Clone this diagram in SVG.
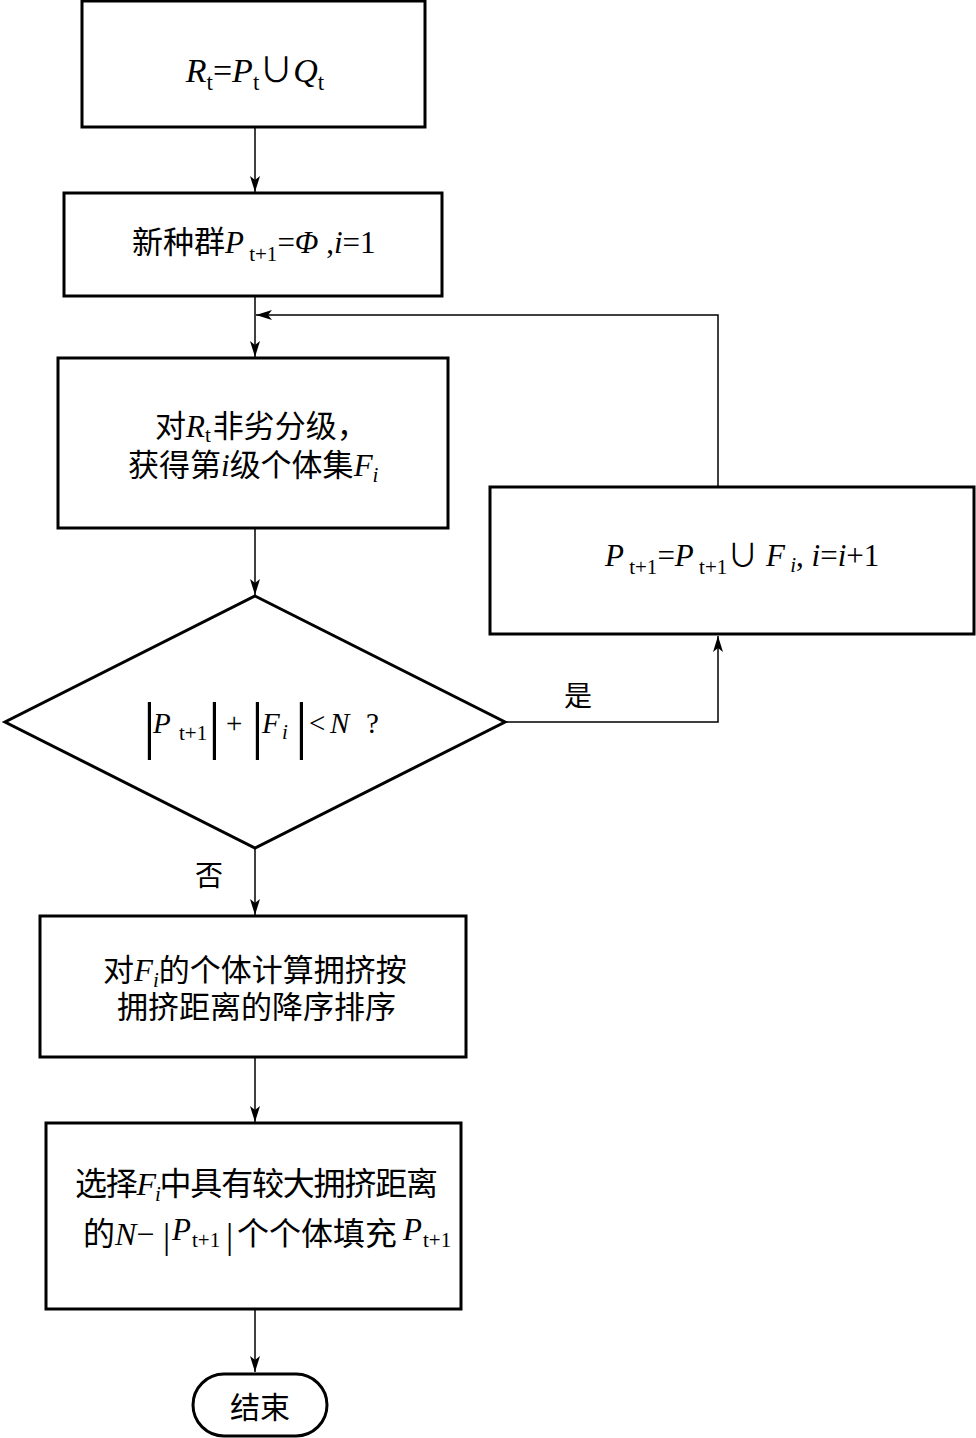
<svg xmlns="http://www.w3.org/2000/svg" width="976" height="1438" viewBox="0 0 976 1438">
<style>
.box{fill:#fff;stroke:#000;stroke-width:3}
.con{fill:none;stroke:#000;stroke-width:1.5}
text{font-family:"Liberation Serif","Noto Sans CJK SC",serif;fill:#000}
.t{font-size:31px}
.it{font-style:italic}
.sb{font-size:21px}
.bar{font-size:64px}
</style>
<defs>
<marker id="arr" viewBox="0 0 16 10" refX="16" refY="5" markerWidth="16" markerHeight="10" markerUnits="userSpaceOnUse" orient="auto">
<path d="M0,0 L16,5 L0,10 L4,5 Z" fill="#000"/>
</marker>
</defs>
<rect width="976" height="1438" fill="#fff"/>

<g id="connectors">
<line class="con" x1="255" y1="127" x2="255" y2="192" marker-end="url(#arr)"/>
<line class="con" x1="255" y1="296" x2="255" y2="357" marker-end="url(#arr)"/>
<polyline class="con" points="718,487 718,315 256,315" marker-end="url(#arr)"/>
<line class="con" x1="255" y1="528" x2="255" y2="595" marker-end="url(#arr)"/>
<polyline class="con" points="505,722 718,722 718,636" marker-end="url(#arr)"/>
<line class="con" x1="255" y1="848" x2="255" y2="915" marker-end="url(#arr)"/>
<line class="con" x1="255" y1="1057" x2="255" y2="1122" marker-end="url(#arr)"/>
<line class="con" x1="255" y1="1309" x2="255" y2="1372" marker-end="url(#arr)"/>
<text x="564" y="706" style="font-size:28px">是</text>
<text x="195" y="886" style="font-size:28px">否</text>
</g>

<g id="n1">
<rect class="box" x="82" y="1" width="343" height="126"/>
<text x="255" y="82" text-anchor="middle" style="font-size:34px"><tspan class="it">R</tspan><tspan style="font-size:23px" dy="8">t</tspan><tspan dy="-8">=</tspan><tspan class="it">P</tspan><tspan style="font-size:23px" dy="8">t</tspan><tspan dy="-8">∪</tspan><tspan class="it">Q</tspan><tspan style="font-size:23px" dy="8">t</tspan></text>
</g>

<g id="n2">
<rect class="box" x="64" y="193" width="378" height="103"/>
<text class="t" x="132" y="253">新种群<tspan class="it">P</tspan><tspan class="sb" dy="8"> t+1</tspan><tspan dy="-8">=</tspan><tspan class="it">Φ</tspan><tspan> ,</tspan><tspan class="it">i</tspan><tspan>=1</tspan></text>
</g>

<g id="n3">
<rect class="box" x="58" y="358" width="390" height="170"/>
<text class="t" x="155" y="437">对<tspan class="it">R</tspan><tspan class="sb" dy="5">t</tspan><tspan dy="-5" dx="2">非劣分级，</tspan></text>
<text class="t" x="128" y="476">获得第<tspan class="it">i</tspan>级个体集<tspan class="it">F</tspan><tspan class="sb it" dy="6">i</tspan></text>
</g>

<g id="n4">
<rect class="box" x="490" y="487" width="484" height="147"/>
<text class="t" x="605" y="566"><tspan class="it">P</tspan><tspan class="sb" dy="8"> t+1</tspan><tspan dy="-8">=</tspan><tspan class="it">P</tspan><tspan class="sb" dy="8"> t+1</tspan><tspan dy="-8">∪</tspan><tspan class="it"> F</tspan><tspan class="sb it" dy="6"> i</tspan><tspan dy="-6">, </tspan><tspan class="it">i</tspan><tspan>=</tspan><tspan class="it">i</tspan><tspan>+1</tspan></text>
</g>

<g id="n5">
<polygon class="box" points="255,596 505,722 255,848 5,722"/>
<text class="bar" x="143" y="746">|</text>
<text class="bar" x="208" y="746">|</text>
<text class="bar" x="251" y="746">|</text>
<text class="bar" x="295" y="746">|</text>
<text x="153" y="733" style="font-size:29px" class="it">P</text>
<text x="179" y="740" style="font-size:21px">t+1</text>
<text x="226" y="733" style="font-size:29px">+</text>
<text x="262" y="733" style="font-size:29px" class="it">F</text>
<text x="282" y="739" style="font-size:21px" class="it">i</text>
<text x="309" y="733" style="font-size:29px">&lt;</text>
<text x="330" y="733" style="font-size:29px" class="it">N</text>
<text x="366" y="733" style="font-size:29px">?</text>
</g>

<g id="n6">
<rect class="box" x="40" y="916" width="426" height="141"/>
<text class="t" x="103" y="981">对<tspan class="it">F</tspan><tspan class="sb it" dy="6">i</tspan><tspan dy="-6">的个体计算拥挤按</tspan></text>
<text class="t" x="117" y="1018">拥挤距离的降序排序</text>
</g>

<g id="n7">
<rect class="box" x="46" y="1123" width="415" height="186"/>
<text x="75" y="1195" style="font-size:32px" textLength="363" lengthAdjust="spacing">选择<tspan class="it">F</tspan><tspan class="sb it" dy="6">i</tspan><tspan dy="-6">中具有较大拥挤距离</tspan></text>
<text x="83" y="1245" style="font-size:32px">的<tspan class="it">N</tspan>−</text>
<text x="163" y="1248" style="font-size:36px">|</text>
<text x="172" y="1240" style="font-size:31px" class="it">P</text>
<text x="192" y="1247" style="font-size:21px">t+1</text>
<text x="226" y="1248" style="font-size:36px">|</text>
<text x="237" y="1245" style="font-size:32px" textLength="160" lengthAdjust="spacing">个个体填充</text>
<text x="403" y="1240" style="font-size:31px" class="it">P</text>
<text x="423" y="1247" style="font-size:21px">t+1</text>
</g>

<g id="n8">
<rect class="box" x="193" y="1374" width="134" height="62" rx="31" ry="31"/>
<text x="260" y="1418" text-anchor="middle" style="font-size:30px">结束</text>
</g>
</svg>
